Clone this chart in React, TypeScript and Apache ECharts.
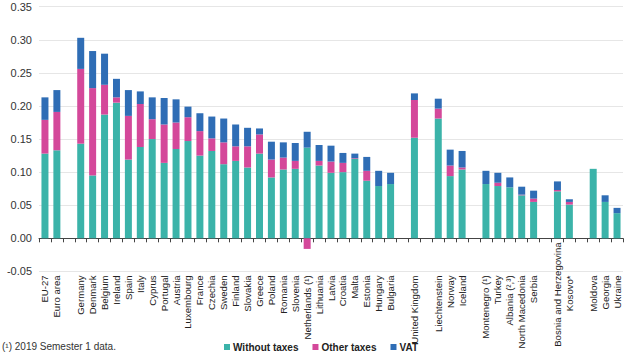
import React, { useEffect, useRef } from "react";
import * as echarts from "echarts";

const categories = [
  "EU-27", "Euro area", " ",
  "Germany", "Denmark", "Belgium", "Ireland", "Spain", "Italy", "Cyprus", "Portugal", "Austria",
  "Luxembourg", "France", "Czechia", "Sweden", "Finland", "Slovakia", "Greece", "Poland", "Romania",
  "Slovenia", "Netherlands (¹)", "Lithuania", "Latvia", "Croatia", "Malta", "Estonia", "Hungary", "Bulgaria",
  "  ", "United Kingdom", "   ",
  "Liechtenstein", "Norway", "Iceland", "    ",
  "Montenegro (¹)", "Turkey", "Albania (²,³)", "North Macedonia", "Serbia", "     ",
  "Bosnia and Herzegovina", "Kosovo*", "      ",
  "Moldova", "Georgia", "Ukraine",
];

const withoutTaxes = [
  0.128, 0.133, null,
  0.143, 0.095, 0.187, 0.205, 0.119, 0.138, 0.150, 0.114, 0.135,
  0.147, 0.125, 0.132, 0.112, 0.117, 0.107, 0.128, 0.092, 0.104,
  0.105, 0.137, 0.110, 0.099, 0.100, 0.120, 0.087, 0.079, 0.082,
  null, 0.152, null,
  0.181, 0.094, 0.104, null,
  0.082, 0.079, 0.077, 0.065, 0.055, null,
  0.071, 0.051, null,
  0.105, 0.055, 0.038,
];

const otherTaxes = [
  0.051, 0.058, null,
  0.113, 0.132, 0.045, 0.008, 0.066, 0.065, 0.030, 0.058, 0.040,
  0.036, 0.037, 0.019, 0.033, 0.022, 0.032, 0.029, 0.027, 0.018,
  0.012, -0.016, 0.007, 0.017, 0.014, 0.001, 0.015, 0, 0,
  null, 0.057, null,
  0.015, 0.016, 0.003, null,
  0, 0.005, 0, 0.001, 0.005, null,
  0.002, 0.004, null,
  0, 0, 0,
];

const vat = [
  0.034, 0.033, null,
  0.047, 0.056, 0.047, 0.028, 0.039, 0.019, 0.033, 0.040, 0.035,
  0.016, 0.027, 0.033, 0.036, 0.033, 0.028, 0.009, 0.027, 0.023,
  0.027, 0.024, 0.024, 0.024, 0.015, 0.007, 0.021, 0.023, 0.017,
  null, 0.010, null,
  0.015, 0.024, 0.025, null,
  0.020, 0.015, 0.015, 0.012, 0.012, null,
  0.013, 0.004, null,
  0, 0.010, 0.008,
];

const seriesNames = ["Without taxes", "Other taxes", "VAT"];
const colors = ["#3bb3a9", "#d4489a", "#2f6db5"];
const footnote = "(¹) 2019 Semester 1 data.";
const longLabel = "Bosnia and Herzegovina";

export default function App() {
  const ref = useRef<HTMLDivElement>(null);
  useEffect(() => {
    if (!ref.current) return;
    const chart = echarts.init(ref.current, null, { renderer: "svg" });
    const font = "Liberation Sans, Arial, sans-serif";
    const dataSets = [withoutTaxes, otherTaxes, vat];
    chart.setOption({
      animation: false,
      color: colors,
      textStyle: { fontFamily: font },
      title: {
        text: footnote,
        left: 2,
        top: 341,
        padding: 0,
        textStyle: { fontSize: 10, fontWeight: "normal", color: "#333", fontFamily: font },
      },
      legend: {
        data: seriesNames,
        left: 224,
        top: 342,
        padding: 0,
        icon: "rect",
        itemWidth: 6,
        itemHeight: 6,
        itemGap: 14,
        textStyle: { fontSize: 10, fontWeight: "bold", color: "#222", fontFamily: font, padding: [0, 0, 0, -2] },
      },
      grid: {
        left: 39, right: 7, top: 6.7, bottom: 83.6,
        containLabel: false,
        outerBoundsMode: "none",
      },
      xAxis: {
        type: "category",
        data: categories,
        axisLine: { onZero: true, lineStyle: { color: "#444", width: 1 } },
        axisTick: { show: true, length: 4, lineStyle: { color: "#444" } },
        axisLabel: {
          interval: 0,
          rotate: 90,
          fontSize: 9.6,
          fontFamily: font,
          color: "#222",
          margin: 4,
          hideOverlap: false,
          formatter: (v: string) => (v === longLabel ? "" : v),
        },
      },
      yAxis: {
        type: "value",
        min: -0.05,
        max: 0.35,
        interval: 0.05,
        axisLine: { show: false },
        axisTick: { show: false },
        splitLine: { lineStyle: { color: "#e6e6e6", width: 1 } },
        axisLabel: {
          fontSize: 11,
          color: "#333",
          margin: 7,
          fontFamily: font,
          formatter: (v: number) => v.toFixed(2),
        },
      },
      series: seriesNames.map((name, i) => ({
        name,
        type: "bar",
        stack: "total",
        barWidth: 7,
        data: dataSets[i],
        itemStyle: { color: colors[i] },
      })),
    });
    const px = chart.convertToPixel({ gridIndex: 0 }, [longLabel, 0]) as number[];
    chart.setOption({
      graphic: [
        {
          type: "text",
          x: px[0],
          y: px[1] + 4,
          rotation: Math.PI / 2,
          style: {
            text: longLabel,
            fontSize: 9.6,
            fontFamily: font,
            fill: "#222",
            align: "right",
            verticalAlign: "middle",
          },
        },
      ],
    });
    return () => chart.dispose();
  }, []);
  return <div ref={ref} style={{ width: 630, height: 355, position: "absolute", left: 0, top: 0 }} />;
}
